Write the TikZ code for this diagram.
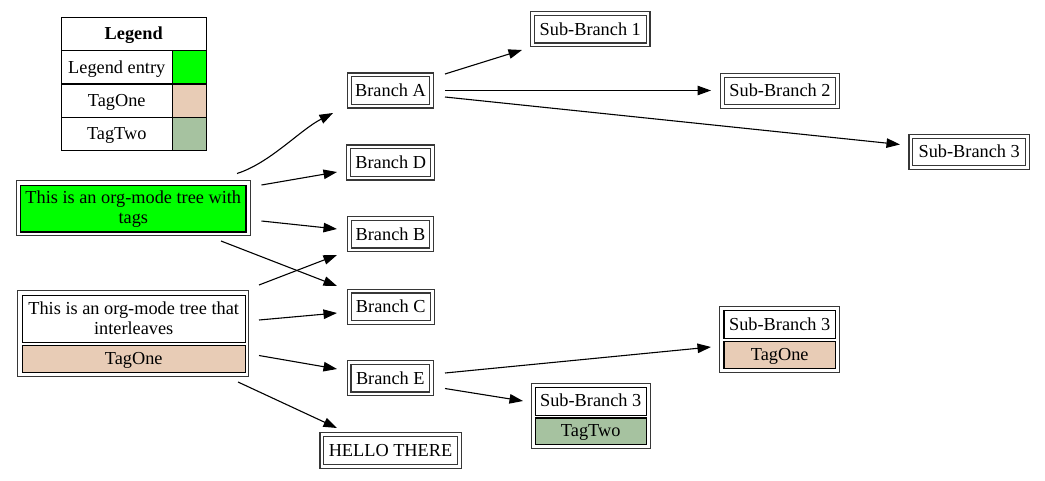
\documentclass[tikz,border=0pt]{standalone}
\usepackage{fontspec}
\setmainfont{Liberation Serif}
\usetikzlibrary{arrows.meta}
\definecolor{tagone}{RGB}{232,204,182}
\definecolor{tagtwo}{RGB}{166,194,160}
\definecolor{entrygreen}{RGB}{0,255,0}
\definecolor{bordergray}{RGB}{55,55,55}
\newcommand\gvfont{\fontsize{18.3}{20}\selectfont}
\begin{document}
\begin{tikzpicture}[x=1pt,y=-1pt,
  every node/.style={font=\gvfont, inner sep=0pt, outer sep=0pt},
  oneline/.style={text height=14pt, text depth=2.5pt},
  simplebox/.style={oneline, draw=bordergray, double=white, double distance=2.6pt, line width=1.2pt, minimum height=31.1pt},
  outerbox/.style={draw=bordergray, line width=1.2pt, fill=white},
  cellbox/.style={draw=black, line width=1.2pt},
  legcell/.style={oneline, draw=black, line width=1.2pt},
  edge/.style={line width=1.1pt, line join=miter, -{Triangle[length=13.5pt,width=9.5pt]}}
]
\useasboundingbox (0,0) rectangle (1045,480);

% Legend
\node[legcell, minimum width=145pt, minimum height=33.5pt, font=\gvfont\bfseries] (leg) at (133.7,33.95) {Legend};
\node[legcell, minimum width=111.1pt, minimum height=33.3pt] (leg1) at (116.75,67.35) {Legend entry};
\node[legcell, fill=entrygreen, minimum width=33.9pt, minimum height=33.3pt] (leg1c) at (189.25,67.35) {};
\node[legcell, minimum width=111.1pt, minimum height=33.3pt] (leg2) at (116.75,100.65) {TagOne};
\node[legcell, fill=tagone, minimum width=33.9pt, minimum height=33.3pt] (leg2c) at (189.25,100.65) {};
\node[legcell, minimum width=111.1pt, minimum height=32.9pt] (leg3) at (116.75,133.75) {TagTwo};
\node[legcell, fill=tagtwo, minimum width=33.9pt, minimum height=32.9pt] (leg3c) at (189.25,133.75) {};

% Root 1
\node[outerbox, minimum width=234pt, minimum height=55pt] (R1) at (133.2,208) {};
\node[cellbox, fill=entrygreen, minimum width=225.5pt, minimum height=46.2pt, align=center] (R1c) at (133.3,208.8) {This is an org-mode tree with\\tags};

% Root 2
\node[outerbox, minimum width=230.7pt, minimum height=85.7pt] (R2) at (133.2,333.3) {};
\node[cellbox, fill=white, minimum width=222.8pt, minimum height=47.2pt, align=center] (R2c) at (133.7,318.7) {This is an org-mode tree that\\interleaves};
\node[cellbox, oneline, fill=tagone, minimum width=222.8pt, minimum height=27.1pt] (R2t) at (133.7,359.2) {TagOne};

% Branches
\node[simplebox, minimum width=82pt] (A) at (390.5,90.5) {Branch A};
\node[simplebox, minimum width=84pt] (D) at (390.7,162.5) {Branch D};
\node[simplebox, minimum width=82.5pt] (B) at (390.5,234.3) {Branch B};
\node[simplebox, minimum width=83pt] (C) at (390.8,306.7) {Branch C};
\node[simplebox, minimum width=82.5pt] (E) at (390.3,378.3) {Branch E};
\node[simplebox, minimum width=137.4pt, minimum height=32.2pt] (H) at (390.5,450.5) {HELLO THERE};

% Sub-branches
\node[simplebox, minimum width=115.7pt] (S1) at (590.3,29.3) {Sub-Branch 1};
\node[simplebox, minimum width=115pt] (S2) at (780,90.8) {Sub-Branch 2};
\node[simplebox, minimum width=116.7pt] (S3) at (969.2,152) {Sub-Branch 3};

% Sub-branch 3 with TagOne
\node[outerbox, minimum width=119.7pt, minimum height=66.3pt] (T1) at (779.7,339.7) {};
\node[cellbox, oneline, fill=white, minimum width=111.5pt, minimum height=28.1pt] (T1c) at (779.7,324.7) {Sub-Branch 3};
\node[cellbox, oneline, fill=tagone, minimum width=111.5pt, minimum height=27.1pt] (T1t) at (779.7,355.2) {TagOne};

% Sub-branch 3 with TagTwo
\node[outerbox, minimum width=119pt, minimum height=65.6pt] (T2) at (590.7,416) {};
\node[cellbox, oneline, fill=white, minimum width=110.8pt, minimum height=27.8pt] (T2c) at (590.7,401.2) {Sub-Branch 3};
\node[cellbox, oneline, fill=tagtwo, minimum width=110.8pt, minimum height=26.5pt] (T2t) at (590.7,431.2) {TagTwo};

% Edges
\draw[edge] ([xshift=103.8pt,yshift=34.5pt]R1.center) .. controls +(33,-10.5) and +(-33,17) .. ([xshift=-57.5pt,yshift=-22.5pt]A.center);
\draw[edge] ([xshift=128.3pt,yshift=23pt]R1.center) -- ([xshift=-53.7pt,yshift=-9.5pt]D.center);
\draw[edge] ([xshift=128.3pt,yshift=-13pt]R1.center) -- ([xshift=-53.5pt,yshift=5.3pt]B.center);
\draw[edge] ([xshift=87.8pt,yshift=-33pt]R1.center) -- ([xshift=-53.8pt,yshift=20.7pt]C.center);
\draw[edge] ([xshift=125.8pt,yshift=48.3pt]R2.center) -- ([xshift=-53.5pt,yshift=-20.7pt]B.center);
\draw[edge] ([xshift=125.8pt,yshift=13.3pt]R2.center) -- ([xshift=-53.8pt,yshift=-6.3pt]C.center);
\draw[edge] ([xshift=125.8pt,yshift=-22.2pt]R2.center) -- ([xshift=-53.3pt,yshift=9.3pt]E.center);
\draw[edge] ([xshift=104.8pt,yshift=-48.7pt]R2.center) -- ([xshift=-53.5pt,yshift=22.5pt]H.center);
\draw[edge] ([xshift=54.5pt,yshift=16.5pt]A.center) -- ([xshift=-68.3pt,yshift=-20.7pt]S1.center);
\draw[edge] ([xshift=54.5pt,yshift=0pt]A.center) -- ([xshift=-69pt,yshift=0.3pt]S2.center);
\draw[edge] ([xshift=54.5pt,yshift=-6.5pt]A.center) -- ([xshift=-69.2pt,yshift=7.5pt]S3.center);
\draw[edge] ([xshift=54.7pt,yshift=5.3pt]E.center) -- ([xshift=-68.7pt,yshift=-7.3pt]T1.center);
\draw[edge] ([xshift=54.7pt,yshift=-10.2pt]E.center) -- ([xshift=-67.7pt,yshift=15pt]T2.center);
\end{tikzpicture}
\end{document}
